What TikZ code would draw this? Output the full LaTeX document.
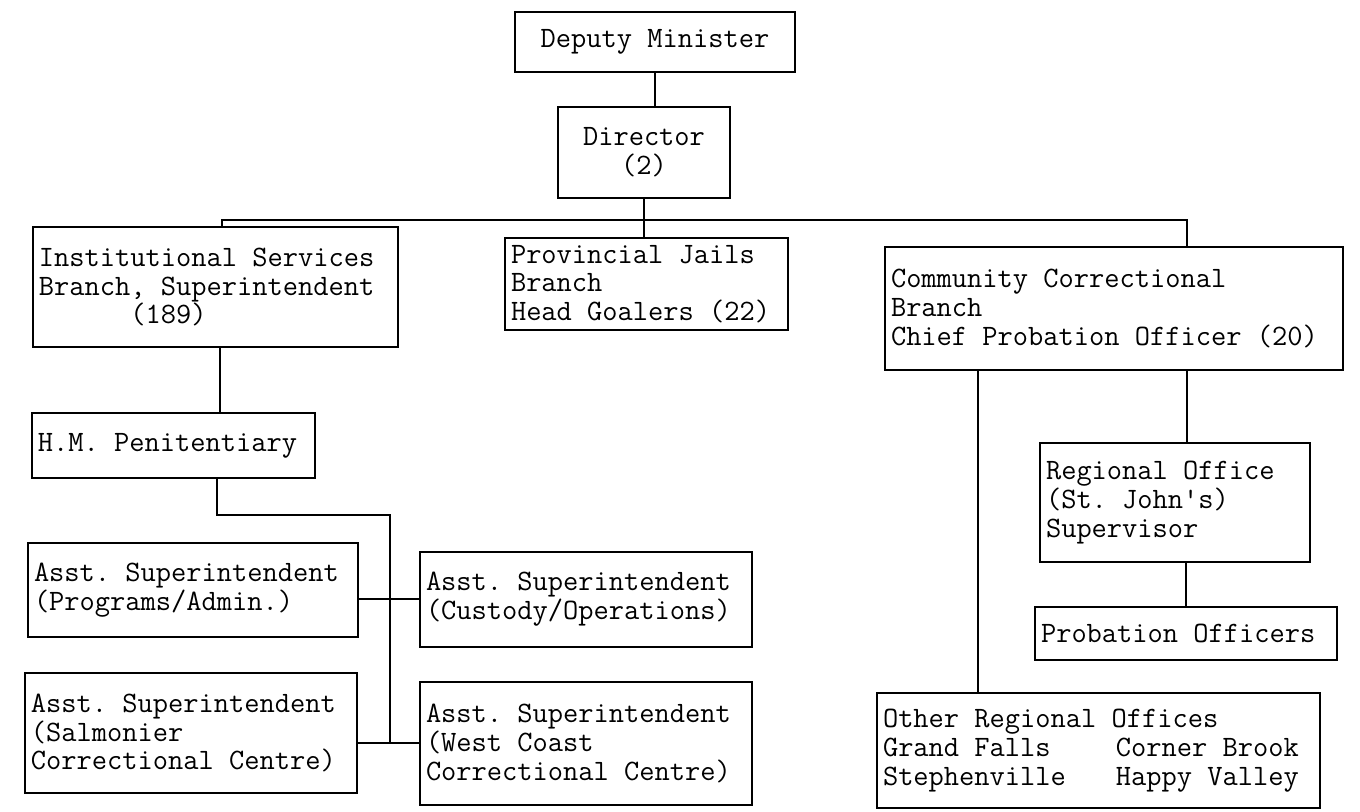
\documentclass[tikz,border=0pt]{standalone}
\usepackage{fontspec}
\newcommand{\typed}{\ttfamily\fontsize{14.8}{14.4}\selectfont\frenchspacing\lineskiplimit=-20pt\relax}
\tikzset{
	post/.style={draw, line width=1.2pt, inner xsep=3pt, inner ysep=2pt, align=flush left, font=\typed},
	link/.style={-, line width=1.1pt}
}
\begin{document}
\begin{tikzpicture}[x=0.5pt, y=-0.5pt]
			\useasboundingbox (0,0) rectangle (1360,811);
			\node [post, align=flush center, text width=134pt, minimum height=30pt] (dm) at (655,42) {Deputy Minister};
			\node [post, align=flush center, text width=80pt, minimum height=45.5pt] (dir) at (644,152.5) {Director\\(2)};
			\node [post, text width=176.5pt, minimum height=60pt] (isb) at (215.5,287) {Institutional Services\\Branch, Superintendent\\\phantom{Branch}(189)};
			\node [post, text width=135.5pt, minimum height=46pt] (pjb) at (646.5,284) {Provincial Jails\\Branch\\Head Goalers (22)};
			\node [post, text width=223pt, minimum height=61.5pt] (ccb) at (1114,308.5) {Community Correctional\\Branch\\Chief Probation Officer (20)};
			\node [post, text width=135.5pt, minimum height=32.5pt] (hmp) at (173.5,445.5) {H.M. Penitentiary};
			\node [post, text width=159pt, minimum height=47pt] (asp) at (193,590) {Asst. Superintendent\\(Programs/Admin.)};
			\node [post, text width=160pt, minimum height=47.5pt] (asc) at (586,599.5) {Asst. Superintendent\\(Custody/Operations)};
			\node [post, text width=160pt, minimum height=60pt] (ass) at (191,733) {Asst. Superintendent\\(Salmonier\\Correctional Centre)};
			\node [post, text width=160pt, minimum height=61.5pt] (asw) at (586,743.5) {Asst. Superintendent\\(West Coast\\Correctional Centre)};
			\node [post, text width=129pt, minimum height=59.5pt] (rog) at (1175,502.5) {Regional Office\\(St. John's)\\Supervisor};
			\node [post, text width=145pt, minimum height=26.5pt] (pro) at (1186,633.5) {Probation Officers};
			\node [post, text width=215.5pt, minimum height=57.5pt] (oro) at (1098.5,750.5) {Other Regional Offices\\\makebox[116.5pt][l]{Grand Falls}Corner Brook\\\makebox[116.5pt][l]{Stephenville}Happy Valley};

			\coordinate (busl) at (222,220);
			\coordinate (busr) at (1187,220);
			\coordinate (hmdrop) at (217,515);
			\coordinate (spine) at (390,515);
			\coordinate (spinefoot) at (390,743);

			\draw [link] (dm.south) -- (dm.south |- dir.north);
			\draw [link] (dir.south) -- (dir.south |- pjb.north);
			\draw [link] (isb.north -| busl) -- (busl) -- (busr) -- (ccb.north -| busr);
			\draw [link] (isb.south -| 220,0) -- (hmp.north -| 220,0);
			\draw [link] (hmp.south -| hmdrop) -- (hmdrop) -- (spine) -- (spinefoot);
			\draw [link] (asp.east |- 0,599) -- (asc.west |- 0,599);
			\draw [link] (ass.east |- spinefoot) -- (asw.west |- spinefoot);
			\draw [link] (ccb.south -| 978,0) -- (oro.north -| 978,0);
			\draw [link] (ccb.south -| busr) -- (rog.north -| busr);
			\draw [link] (pro.north) -- (pro.north |- rog.south);
\end{tikzpicture}
\end{document}
